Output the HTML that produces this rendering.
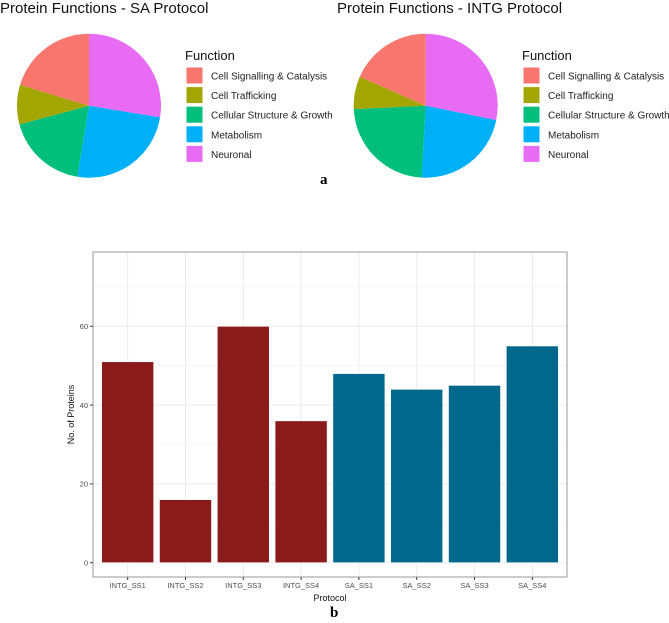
<!DOCTYPE html>
<html><head><meta charset="utf-8"><style>
body{margin:0;background:#fff;width:669px;height:623px;overflow:hidden}
svg{display:block}
text{font-family:"Liberation Sans",sans-serif}
</style></head><body>
<svg id="s" width="669" height="623">
<text x="0" y="13" font-size="15" fill="#111">Protein Functions - SA Protocol</text>
<text x="337" y="13" font-size="15" fill="#111">Protein Functions - INTG Protocol</text>
<g id="pieSA"></g>
<g id="pieINTG"></g>
<g id="legSA"></g>
<g id="legINTG"></g>
<text x="320" y="184" font-size="15" font-weight="bold" style="font-family:'Liberation Serif',serif">a</text>
<g id="bar"></g>
<text x="330" y="617" font-size="15" font-weight="bold" style="font-family:'Liberation Serif',serif">b</text>
</svg>
<script>
const functions=["Cell Signalling & Catalysis","Cell Trafficking","Cellular Structure & Growth","Metabolism","Neuronal"];
const colors=["#F8766D","#A3A500","#00BF7D","#00B0F6","#E76BF3"];
const saCounts=[39,17,35,48,53];
const intgCounts=[30,12,38,37,46];
const protocols=["INTG_SS1","INTG_SS2","INTG_SS3","INTG_SS4","SA_SS1","SA_SS2","SA_SS3","SA_SS4"];
const proteins=[51,16,60,36,48,44,45,55];
const yTicks=[0,20,40,60];
const NS="http://www.w3.org/2000/svg";
function mk(t,a,p){const e=document.createElementNS(NS,t);for(const k in a)e.setAttribute(k,a[k]);p.appendChild(e);return e;}
function pie(g,counts,cx,cy,r){
  const tot=counts.reduce((a,b)=>a+b,0);
  let ang=0;
  for(let i=counts.length-1;i>=0;i--){
    const a0=ang,a1=ang+counts[i]/tot*2*Math.PI;ang=a1;
    const x0=cx+r*Math.sin(a0),y0=cy-r*Math.cos(a0),x1=cx+r*Math.sin(a1),y1=cy-r*Math.cos(a1);
    const p=mk('path',{d:`M${cx},${cy}L${x0},${y0}A${r},${r} 0 ${a1-a0>Math.PI?1:0} 1 ${x1},${y1}Z`,fill:colors[i]},g);
    
    
  }
}
function legend(g,kx,tx){
  const t=mk('text',{x:kx-1,y:60,'font-size':13,fill:'#111'},g);t.textContent='Function';
  
  
  functions.forEach((f,i)=>{
    const y=67+i*19.6;
    const r=mk('rect',{x:kx,y:y,width:17,height:17,fill:colors[i],stroke:'#fff','stroke-width':1},g);
    
    
    const l=mk('text',{x:tx,y:y+12.5,'font-size':10,fill:'#222'},g);l.textContent=f;
    
    
  });
}
pie(document.getElementById('pieSA'),saCounts,89,105.7,72);
pie(document.getElementById('pieINTG'),intgCounts,425.7,105.7,72);
legend(document.getElementById('legSA'),186,211);
legend(document.getElementById('legINTG'),523,548);
const g=document.getElementById('bar');
const L=93,R=567,T=252,B=577,y0=562.7,ppu=3.94;
const Y=v=>y0-v*ppu;
const step=(R-L)/8.2;
const X=i=>L+(i+0.6)*step;
mk('rect',{x:L,y:T,width:R-L,height:B-T,fill:'#fff'},g);
[10,30,50,70].forEach(v=>mk('line',{x1:L,x2:R,y1:Y(v),y2:Y(v),stroke:'#f2f2f2','stroke-width':0.6},g));
yTicks.forEach(v=>mk('line',{x1:L,x2:R,y1:Y(v),y2:Y(v),stroke:'#ebebeb','stroke-width':1},g));
protocols.forEach((p,i)=>mk('line',{x1:X(i),x2:X(i),y1:T,y2:B,stroke:'#ebebeb','stroke-width':1},g));
protocols.forEach((p,i)=>{
  const w=0.9*step;
  const r=mk('rect',{x:X(i)-w/2,y:Y(proteins[i]),width:w,height:Y(0)-Y(proteins[i]),fill:p.startsWith('INTG')?'#8B1A1A':'#00688B',stroke:'#fff','stroke-width':0.6},g);
  
  
  mk('line',{x1:X(i),x2:X(i),y1:B,y2:B+3,stroke:'#333'},g);
  const t=mk('text',{x:X(i),y:B+11,'font-size':7.5,fill:'#4d4d4d','text-anchor':'middle'},g);t.textContent=p;
  
  
});
yTicks.forEach(v=>{
  mk('line',{x1:L-3,x2:L,y1:Y(v),y2:Y(v),stroke:'#333'},g);
  const t=mk('text',{x:L-5,y:Y(v)+2.7,'font-size':7.5,fill:'#4d4d4d','text-anchor':'end'},g);t.textContent=v;
  
  
});
const fr=mk('rect',{x:L,y:T,width:R-L,height:B-T,fill:'none',stroke:'#7f7f7f','stroke-width':0.8},g);


const xt=mk('text',{x:(L+R)/2,y:601,'font-size':9,fill:'#111','text-anchor':'middle'},g);xt.textContent='Protocol';


const yt=mk('text',{x:0,y:0,'font-size':9,fill:'#111','text-anchor':'middle',transform:`translate(74,${(T+B)/2}) rotate(-90)`},g);yt.textContent='No. of Proteins';


</script>
</body></html>
